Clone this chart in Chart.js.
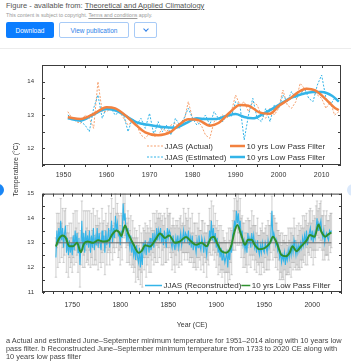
<!DOCTYPE html>
<html>
<head>
<meta charset="utf-8">
<script src="https://cdn.jsdelivr.net/npm/chart.js@4.4.1/dist/chart.umd.min.js"></script>
<style>
  body { margin:0; width:351px; height:364px; background:#fff; position:relative; overflow:hidden;
         font-family:"Liberation Sans", Arial, sans-serif; }
  .abs { position:absolute; white-space:nowrap; }
  .btn { position:absolute; top:22px; height:16px; box-sizing:border-box; border-radius:2px;
         font-size:6.5px; display:flex; align-items:center; justify-content:center; }
  canvas { position:absolute; left:0; }
</style>
</head>
<body>
<div class="abs" style="left:6px;top:1px;font-size:7.5px;color:#555">Figure - available from: <u>Theoretical and Applied Climatology</u></div>
<div class="abs" style="left:6px;top:12px;font-size:5.2px;color:#999">This content is subject to copyright. <u>Terms and conditions</u> apply.</div>
<div class="btn" style="left:6px;width:48px;background:#0b7dff;color:#fff">Download</div>
<div class="btn" style="left:59px;width:70px;border:1px solid #a8cbf7;color:#2d7fe8">View publication</div>
<div class="btn" style="left:134px;width:23px;border:1px solid #a8cbf7">
  <div style="width:3px;height:3px;border-right:1px solid #2d7fe8;border-bottom:1px solid #2d7fe8;transform:rotate(45deg);margin-top:-2px"></div>
</div>
<div class="abs" style="left:0;top:48px;width:351px;height:1px;background:#ececec"></div>

<canvas id="obs" width="351" height="132" style="top:50px;width:351px;height:132px"></canvas>
<canvas id="recon" width="351" height="153" style="top:182px;width:351px;height:153px"></canvas>

<div class="abs" style="left:-11px;top:167px;width:52px;text-align:center;font-size:7px;color:#333;transform:rotate(-90deg)">Temperature (°C)</div>
<div class="abs" style="left:142px;top:321px;width:100px;text-align:center;font-size:7px;color:#333">Year (CE)</div>
<div class="abs" style="left:-8px;top:184px;width:12px;height:12px;border-radius:50%;background:#1a86f5"></div>
<div class="abs" style="left:347px;top:184px;width:12px;height:12px;border-radius:50%;background:#dbe9fb"></div>

<div class="abs" style="left:6px;top:337px;font-size:7.4px;line-height:8.2px;color:#444">a Actual and estimated June–September minimum temperature for 1951–2014 along with 10 years low<br>pass filter. b Reconstructed June–September minimum temperature from 1733 to 2020 CE along with<br>10 years low pass filter</div>

<script>
// ---- panel a : 1951-2014 ----
const obsStart = 1951
const jjasActual = [
  13.1, 12.9, 12.8, 12.75, 13.0, 12.9, 12.6, 14.0, 13.1, 13.1,
  13.2, 13.2, 13.1, 12.9, 12.7, 12.8, 12.7, 12.4, 12.3, 12.45,
  12.35, 12.4, 12.6, 12.5, 12.7, 12.75, 12.6, 12.8, 13.4, 12.9,
  12.8, 12.7, 12.4, 12.3, 12.8, 12.9, 13.0, 12.9, 13.1, 13.6,
  13.3, 13.4, 13.1, 13.4, 13.3, 13.0, 12.9, 13.2, 13.0, 13.2,
  13.75, 13.3, 13.2, 13.4, 13.95, 13.8, 13.8, 13.7, 13.6, 13.5,
  13.2, 13.4, 13.0, 13.1
]
const jjasEstimated = [
  13.0, 12.9, 12.85, 12.8, 12.7, 12.5, 13.2, 13.6, 12.9, 13.25,
  13.2, 13.0, 13.1, 13.0, 12.5, 12.9, 12.7, 12.9, 12.6, 13.05,
  12.4, 12.8, 12.5, 12.7, 12.4, 12.9, 12.7, 12.9, 13.2, 12.9,
  12.7, 12.8, 13.0, 12.7, 13.1, 12.9, 12.8, 13.0, 12.95, 13.4,
  13.3, 12.25, 13.0, 13.5, 12.9, 12.8, 13.2, 12.8, 13.3, 13.2,
  13.6, 13.4, 13.7, 13.5, 13.6, 13.8, 13.5, 13.4, 13.9, 14.2,
  13.5, 13.3, 13.5, 13.4
]
const lpfActualYears = [1951, 1954, 1957, 1960, 1962, 1965, 1967, 1969, 1972, 1975, 1977, 1979, 1981.5, 1984, 1986, 1988.5, 1991, 1993, 1995.5, 1998, 2000, 2002.5, 2004.5, 2006.5, 2008.5, 2011, 2013, 2014]
const lpfActual = [12.93, 12.88, 13.03, 13.23, 13.2, 12.92, 12.68, 12.48, 12.39, 12.5, 12.72, 12.87, 12.84, 12.68, 12.76, 13.06, 13.3, 13.28, 13.08, 13.04, 13.27, 13.48, 13.68, 13.79, 13.74, 13.47, 13.22, 13.15]
const lpfEstYears = [1951, 1954, 1957, 1960, 1962.5, 1965, 1967, 1970, 1973, 1976, 1978.5, 1981, 1983, 1985.5, 1988, 1990, 1992, 1994, 1996.5, 1999, 2001, 2003, 2005.5, 2008, 2010, 2012.5, 2014]
const lpfEstimated = [12.9, 12.83, 13.02, 13.18, 13.12, 12.93, 12.78, 12.7, 12.64, 12.62, 12.76, 12.9, 12.88, 12.88, 12.98, 13.03, 12.94, 12.9, 13.04, 13.22, 13.38, 13.52, 13.63, 13.69, 13.69, 13.57, 13.4]

// ---- panel b : 1733-2020 ----
const reconStart = 1733
const jjasRecon = [
  12.4, 13.5, 12.9, 13.6, 13.0, 13.9, 13.1,
  13.6, 12.8, 13.4, 13.7, 12.6, 13.2, 12.5, 13.1, 12.6, 13.0,
  12.5, 13.3, 12.7, 13.5, 12.9, 13.4, 12.6, 13.2, 12.1, 12.8,
  13.9, 12.7, 13.4, 12.6, 13.5, 12.9, 13.3, 12.8, 13.5, 12.6,
  13.3, 12.8, 13.6, 12.7, 13.2, 12.9, 13.6, 12.8, 13.4, 13.0,
  12.7, 13.5, 13.0, 13.3, 12.6, 13.5, 12.9, 13.2, 13.6, 12.8,
  13.4, 13.9, 13.0, 13.6, 13.2, 14.1, 13.5, 13.8, 13.3, 13.4,
  12.9, 13.5, 13.2, 14.6, 13.9, 14.2, 13.4, 13.0, 13.6, 13.1,
  12.8, 13.3, 12.6, 13.0, 12.5, 12.8, 12.3, 12.9, 12.4, 12.2,
  12.8, 12.0, 12.6, 12.1, 13.0, 12.7, 13.1, 12.5, 12.9, 13.0,
  12.6, 13.2, 12.7, 12.9, 13.4, 12.8, 13.3, 13.0, 13.6, 13.1,
  13.5, 13.2, 13.6, 13.0, 13.4, 12.9, 13.5, 13.1, 12.8, 13.6,
  13.2, 13.5, 13.4, 13.0, 12.8, 13.3, 12.9, 12.7, 13.2, 12.9,
  13.3, 12.8, 13.1, 13.4, 12.9, 13.2, 13.5, 13.0, 13.4, 13.3,
  13.1, 13.5, 12.9, 13.2, 12.8, 13.3, 12.7, 13.0, 12.9, 12.6,
  13.1, 12.8, 13.3, 12.9, 12.7, 13.2, 13.0, 12.6, 13.1, 12.8,
  12.5, 13.0, 12.9, 13.5, 13.2, 13.9, 13.1, 13.6, 13.0, 13.4,
  12.8, 13.2, 12.6, 12.9, 12.4, 12.8, 12.3, 12.7, 12.5, 12.2,
  12.4, 12.6, 12.0, 12.7, 12.3, 12.9, 12.6, 13.3, 13.5, 13.9,
  13.5, 14.3, 13.8, 14.2, 13.6, 13.9, 13.2, 13.5, 12.9, 13.1,
  12.7, 13.0, 12.6, 13.4, 13.0, 13.2, 12.8, 13.4, 13.0, 13.3,
  12.8, 13.0, 12.6, 13.1, 12.7, 12.5, 12.9, 12.6, 13.0, 12.7,
  12.6, 13.0, 12.8, 12.6, 13.1, 12.8, 13.0, 13.4, 14.3, 13.2,
  13.4, 13.2, 12.9, 13.1, 12.7, 12.9, 12.4, 12.6, 12.2, 12.5,
  12.3, 12.6, 12.1, 12.5, 12.3, 12.7, 12.4, 12.8, 12.5, 12.9,
  12.6, 13.1, 12.8, 12.5, 12.9, 12.6, 12.9, 12.7, 13.0, 12.8,
  13.2, 12.9, 13.3, 13.0, 13.5, 12.9, 13.2, 13.4, 13.6, 13.1,
  13.5, 13.0, 13.4, 13.2, 13.6, 14.0, 13.5, 13.8, 13.7, 13.9,
  13.4, 13.2, 13.5, 13.0, 13.3, 13.4, 13.2, 13.1, 13.5, 13.4, 13.5
]
// half length of the grey uncertainty bars
const reconErr = [
  0.8, 0.7, 0.9, 0.6, 0.8, 0.9, 0.7,
  0.8, 0.6, 0.9, 0.7, 0.8, 0.5, 0.9, 0.7, 0.6, 0.8,
  0.7, 0.9, 0.6, 0.8, 0.7, 0.9, 0.8, 0.6, 0.9, 0.7,
  0.8, 0.7, 0.9, 0.6, 0.8, 0.7, 1.0, 0.7, 0.8, 0.6,
  0.9, 0.7, 0.8, 0.6, 0.9, 0.8, 0.7, 0.9, 0.6, 0.8,
  0.7, 0.9, 0.8, 0.6, 0.9, 0.7, 0.8, 0.6, 0.9, 0.7,
  0.8, 0.9, 0.7, 0.8, 0.6, 0.9, 0.7, 0.8, 0.9, 0.7,
  0.8, 0.7, 0.9, 0.8, 0.7, 0.9, 0.6, 0.8, 0.7, 0.9,
  0.7, 0.8, 0.6, 0.9, 0.7, 0.8, 0.9, 0.6, 0.8, 0.7,
  0.9, 0.7, 0.8, 0.9, 0.6, 0.8, 0.7, 0.9, 0.8, 0.6,
  0.8, 0.7, 0.9, 0.6, 0.8, 0.7, 0.9, 0.8, 0.7, 0.9,
  0.7, 0.8, 0.6, 0.9, 0.7, 0.8, 0.7, 0.9, 0.6, 0.8,
  0.9, 0.7, 0.8, 0.6, 0.9, 0.7, 0.8, 0.9, 0.7, 0.8,
  0.6, 0.8, 0.9, 0.7, 0.8, 0.6, 0.9, 0.7, 0.8, 0.7,
  0.8, 0.9, 0.7, 0.8, 0.6, 0.9, 0.7, 0.8, 0.9, 0.7,
  0.7, 0.8, 0.9, 0.6, 0.8, 0.7, 0.9, 0.8, 0.7, 0.6,
  0.9, 0.7, 0.8, 0.9, 0.7, 0.8, 0.6, 0.9, 0.7, 0.8,
  0.8, 0.7, 0.9, 0.8, 0.6, 0.9, 0.7, 0.8, 0.7, 0.9,
  0.6, 0.8, 0.7, 0.9, 0.8, 0.7, 0.9, 0.6, 0.8, 0.9,
  0.8, 0.7, 0.9, 0.8, 0.7, 0.9, 0.8, 0.6, 0.9, 0.7,
  0.7, 0.9, 0.8, 0.6, 0.9, 0.7, 0.8, 0.9, 0.7, 0.8,
  0.9, 0.7, 0.8, 0.9, 0.6, 0.8, 0.7, 0.9, 0.8, 0.7,
  0.8, 0.6, 0.9, 0.7, 0.8, 0.9, 0.7, 0.8, 0.6, 0.9,
  0.7, 0.8, 0.9, 0.7, 0.8, 0.6, 0.9, 0.8, 0.7, 0.9,
  0.8, 0.7, 0.9, 0.8, 0.6, 0.9, 0.7, 0.8, 0.9, 0.7,
  0.7, 0.9, 0.8, 0.6, 0.8, 0.7, 0.9, 0.8, 0.7, 0.8,
  0.9, 0.7, 0.8, 0.9, 0.7, 0.8, 0.6, 0.9, 0.8, 0.7,
  0.8, 0.9, 0.7, 0.8, 0.9, 0.7, 0.8, 0.6, 0.9, 0.8,
  0.7, 0.9, 0.8, 0.7, 0.8, 0.9, 0.7, 0.8, 0.6, 0.8, 0.7
]
const lpfReconYears = [1733, 1736, 1740, 1743, 1747, 1751, 1755, 1759, 1762, 1766, 1772, 1777, 1783, 1788, 1792, 1796, 1799, 1801, 1805, 1808, 1814, 1819, 1822, 1826, 1831, 1836.5, 1841.5, 1846.5, 1851, 1857, 1862, 1868.5, 1874, 1879, 1884.5, 1890, 1894.5, 1897.5, 1900.5, 1905.5, 1910.5, 1915.5, 1919, 1922, 1926, 1930, 1933, 1937, 1940, 1945, 1951, 1956, 1959, 1963, 1968, 1972.5, 1976.5, 1979.5, 1983.5, 1988.5, 1994.5, 1997.5, 2002.5, 2006.5, 2009.5, 2013.5, 2016.5, 2020]
const lpfRecon = [12.85, 13.15, 13.3, 13.22, 12.86, 12.86, 13.0, 12.62, 12.95, 13.05, 13.0, 13.1, 13.05, 13.1, 13.36, 13.5, 13.42, 13.28, 13.7, 13.4, 12.92, 12.6, 12.65, 12.9, 12.85, 13.12, 13.38, 13.2, 13.3, 13.0, 13.05, 13.24, 13.05, 12.92, 13.0, 12.86, 13.2, 13.25, 13.02, 12.66, 12.6, 12.86, 13.45, 13.72, 13.32, 12.92, 13.12, 13.12, 12.92, 12.74, 12.8, 13.0, 13.25, 13.0, 12.5, 12.45, 12.6, 12.86, 12.66, 12.86, 13.12, 13.32, 13.25, 13.74, 13.45, 13.25, 13.33, 13.42]
const reconMean = 13.0

const orange = '#f2813f'
const orangeLight = '#f5a06e'
const blue = '#33b4e8'
const green = '#2e902e'

Chart.defaults.font.family = '"Liberation Sans", Arial, sans-serif'
Chart.defaults.color = '#333'

const pts = (start, vals) => vals.map((v, i) => ({ x: start + i, y: v }))
const xy = (xs, ys) => xs.map((x, i) => ({ x: x, y: ys[i] }))

// box around the plot with small ticks (bottom ones outside, others inside)
const frameTicks = {
  id: 'frameTicks',
  afterDatasetsDraw(chart) {
    const { ctx, chartArea: a, scales } = chart
    ctx.save()
    ctx.strokeStyle = '#3c3c3c'
    ctx.lineWidth = 1
    ctx.strokeRect(a.left + 0.5, a.top + 0.5, a.right - a.left - 1, a.bottom - a.top - 1)
    ctx.beginPath()
    scales.x.ticks.forEach(t => {
      const px = Math.round(scales.x.getPixelForValue(t.value)) + 0.5
      ctx.moveTo(px, a.top); ctx.lineTo(px, a.top + 3)
      ctx.moveTo(px, a.bottom - 1); ctx.lineTo(px, a.bottom + 2)
    })
    scales.y.ticks.forEach(t => {
      const py = Math.round(scales.y.getPixelForValue(t.value)) + 0.5
      ctx.moveTo(a.left, py); ctx.lineTo(a.left + 3, py)
      ctx.moveTo(a.right, py); ctx.lineTo(a.right - 3, py)
    })
    ctx.stroke()
    ctx.restore()
  }
}

// legend drawn inside the plot; rows are kept out of the options resolver
function insideLegend(id, fontSize, rows) {
  return {
    id: id,
    afterDraw(chart) {
      const ctx = chart.ctx
      ctx.save()
      ctx.font = fontSize + 'px "Liberation Sans", Arial, sans-serif'
      ctx.textBaseline = 'middle'
      rows.forEach(row => {
        let x = row.x
        row.items.forEach(it => {
          if (it.at) x = it.at
          ctx.strokeStyle = it.color
          ctx.lineWidth = it.width
          ctx.setLineDash(it.dash || [])
          ctx.beginPath()
          ctx.moveTo(x, row.y); ctx.lineTo(x + it.len, row.y)
          ctx.stroke()
          ctx.setLineDash([])
          ctx.fillStyle = '#333'
          ctx.fillText(it.text, x + it.len + 1.5, row.y + 0.5)
          x = x + it.len + 1.5 + ctx.measureText(it.text).width
        })
      })
      ctx.restore()
    }
  }
}

function axes(xMin, xMax, xStep, xLabelEvery, xPad, xHeight, yMin, yMax) {
  return {
    x: {
      type: 'linear', min: xMin, max: xMax, offset: false,
      grid: { display: false, drawTicks: false }, border: { display: false },
      ticks: { stepSize: xStep, autoSkip: false, includeBounds: false, maxRotation: 0, padding: xPad,
               font: { size: 7 }, callback: v => v % xLabelEvery === 0 ? v : '' },
      afterFit: s => { s.height = xHeight }
    },
    y: {
      min: yMin, max: yMax,
      grid: { display: false, drawTicks: false }, border: { display: false },
      ticks: { stepSize: 0.5, autoSkip: false, padding: 8, font: { size: 6 },
               callback: v => Number.isInteger(v) ? v : '' },
      afterFit: s => { s.width = 42 }
    }
  }
}

loadObservedChart()
loadReconChart()

function loadObservedChart() {
  const legendRows = [
    { x: 147, y: 96, items: [
      { len: 16, color: orangeLight, width: 1, dash: [2, 1.5], text: 'JJAS (Actual)' },
      { at: 230, len: 15, color: orange, width: 2.5, text: '10 yrs Low Pass Filter' } ] },
    { x: 147, y: 107, items: [
      { len: 16, color: blue, width: 1, dash: [2, 1.5], text: 'JJAS (Estimated)' },
      { at: 230, len: 15, color: blue, width: 2.5, text: '10 yrs Low Pass Filter' } ] }
  ]
  new Chart(document.getElementById('obs'), {
    type: 'line',
    data: {
      datasets: [
        { label: 'JJAS (Actual)', data: pts(obsStart, jjasActual), borderColor: orangeLight,
          borderWidth: 1, borderDash: [2, 1.5], pointRadius: 0, tension: 0, order: 3 },
        { label: 'JJAS (Estimated)', data: pts(obsStart, jjasEstimated), borderColor: blue,
          borderWidth: 1, borderDash: [2, 1.5], pointRadius: 0, tension: 0, order: 2 },
        { label: '10 yrs Low Pass Filter', data: xy(lpfEstYears, lpfEstimated), borderColor: blue,
          borderWidth: 2.5, pointRadius: 0, cubicInterpolationMode: 'monotone', order: 1 },
        { label: '10 yrs Low Pass Filter', data: xy(lpfActualYears, lpfActual), borderColor: orange,
          borderWidth: 2.5, pointRadius: 0, cubicInterpolationMode: 'monotone', order: 0 }
      ]
    },
    options: {
      responsive: false, animation: false, devicePixelRatio: 1,
      layout: { padding: { top: 15, right: 10, left: 0, bottom: 0 }, autoPadding: false },
      scales: axes(1945, 2014.5, 5, 10, 6, 17, 11.5, 14.5),
      plugins: { legend: { display: false }, tooltip: { enabled: false } }
    },
    plugins: [frameTicks, insideLegend('obsLegend', 8, legendRows)]
  })
}

function loadReconChart() {
  const lo = jjasRecon.map((v, i) => v - reconErr[i])
  const hi = jjasRecon.map((v, i) => v + reconErr[i])
  const lastYear = reconStart + jjasRecon.length - 1
  const legendRows = [
    { x: 145, y: 103.5, items: [
      { len: 17, color: blue, width: 1.5, text: 'JJAS (Reconstructed)' },
      { len: 9, color: green, width: 1.5, text: '10 yrs Low Pass Filter' } ] }
  ]
  new Chart(document.getElementById('recon'), {
    type: 'line',
    data: {
      datasets: [
        { type: 'bar', data: jjasRecon.map((v, i) => ({ x: reconStart + i, y: [lo[i], hi[i]] })),
          backgroundColor: 'rgba(175,175,175,0.45)', barThickness: 0.7, order: 6 },
        { type: 'line', showLine: false, data: pts(reconStart, hi), pointStyle: 'line', pointRadius: 1.3,
          borderColor: 'rgba(150,150,150,0.55)', pointBorderWidth: 0.6, order: 5 },
        { type: 'line', showLine: false, data: pts(reconStart, lo), pointStyle: 'line', pointRadius: 1.3,
          borderColor: 'rgba(150,150,150,0.55)', pointBorderWidth: 0.6, order: 4 },
        { label: 'JJAS (Reconstructed)', data: pts(reconStart, jjasRecon), borderColor: blue,
          borderWidth: 1.1, pointRadius: 0, tension: 0, order: 3 },
        { data: [{ x: reconStart, y: reconMean }, { x: lastYear, y: reconMean }], borderColor: '#6f6f6f',
          borderWidth: 1, pointRadius: 0, order: 2 },
        { label: '10 yrs Low Pass Filter', data: xy(lpfReconYears, lpfRecon), borderColor: green,
          borderWidth: 2, pointRadius: 0, cubicInterpolationMode: 'monotone', order: 1 }
      ]
    },
    options: {
      responsive: false, animation: false, devicePixelRatio: 1,
      layout: { padding: { top: 10, right: 9, left: 0, bottom: 0 }, autoPadding: false },
      scales: axes(1718.5, 2031, 10, 50, 9, 43, 11, 15),
      plugins: { legend: { display: false }, tooltip: { enabled: false } }
    },
    plugins: [frameTicks, insideLegend('reconLegend', 8, legendRows)]
  })
}
</script>
</body>
</html>
